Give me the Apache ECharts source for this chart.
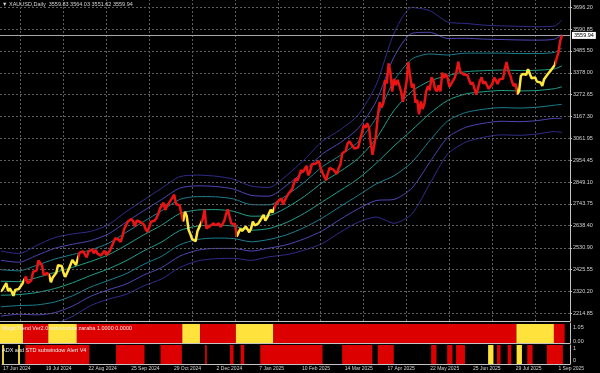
<!DOCTYPE html>
<html><head><meta charset="utf-8">
<script src="https://cdn.jsdelivr.net/npm/echarts@6/dist/echarts.min.js"></script>
<style>html,body{margin:0;padding:0;background:#000;}#c{width:600px;height:373px;}</style>
</head><body><div id="c"></div>
<script>
// ---- data ----
const closes = [
2319,2329,2328,2360,2322, 2334,2319,2298,2327,2326, 2331,2330,2356,2356,2392, 2359,2364,2372,2414,2411,
2422,2469,2458,2445,2400, 2396,2409,2397,2364,2387, 2384,2410,2447,2446,2443, 2410,2390,2382,2428,2431,
2472,2465,2447,2456,2507, 2504,2514,2512,2485,2512, 2518,2524,2504,2521,2503, 2500,2493,2495,2516,2497,
2506,2516,2512,2558,2577, 2582,2570,2559,2587,2622, 2628,2657,2657,2671,2658, 2635,2663,2659,2656,2653,
2644,2622,2608,2631,2657, 2649,2662,2674,2693,2721, 2720,2749,2714,2736,2747, 2742,2774,2788,2743,2736,
2736,2743,2659,2706,2685, 2619,2598,2573,2565,2563, 2611,2631,2650,2670,2716, 2625,2633,2636,2640,2650,
2640,2643,2650,2632,2633, 2660,2694,2718,2681,2648, 2652,2646,2586,2594,2623, 2612,2617,2634,2621,
2606,2624,2658,2640, 2636,2648,2662,2670,2690, 2663,2677,2697,2715,2702, 2708,2744,2755,2754,2770,
2740,2763,2760,2794,2798, 2815,2843,2866,2856,2861, 2907,2897,2904,2928,2882, 2899,2935,2933,2938,2936,
2951,2915,2917,2875,2858, 2893,2918,2920,2910,2910, 2889,2916,2934,2988,2984, 3001,3035,3048,3044,3022,
3011,3020,3018,3057,3085, 3124,3113,3134,3114,3037, 2982,2982,3082,3175,3237, 3211,3230,3343,3327,
3424,3380,3288,3349,3319, 3345,3317,3288,3238,3240, 3334,3431,3364,3307,3325, 3234,3248,3178,3240,3203,
3230,3289,3314,3294,3357, 3342,3300,3289,3318,3289, 3380,3353,3373,3353,3310, 3325,3322,3355,3386,3433,
3385,3390,3370,3369,3368, 3368,3323,3333,3327,3274, 3303,3338,3357,3326,3337, 3336,3301,3313,3324,3356,
3343,3324,3347,3338,3350, 3397,3431,3387,3368,3337, 3314,3326,3275,3289,3363, 3373,3380,3369,3396,3398,
3352,3348,3356,3336,3336, 3332,3315,3348,3339,3372, 3365,3393,3397,3417,3448, 3476,3533,3560
];
const trendSegments = [[0,12,'Y'],[13,26,'R'],[27,42,'Y'],[43,101,'R'],[102,111,'Y'],[112,131,'R'],[132,152,'Y'],[153,288,'R'],[289,309,'Y'],[310,315,'R']];
const adxSegments = [[0,0,'Y'],[9,9,'Y'],[13,48,'R'],[64,79,'R'],[89,100,'R'],[114,114,'R'],[128,129,'R'],[134,135,'R'],[145,179,'R'],[191,207,'R'],[211,219,'R'],[241,243,'R'],[250,252,'R'],[255,259,'R'],[273,275,'Y'],[278,279,'R'],[284,285,'R'],[289,291,'Y'],[295,297,'R'],[306,314,'R']];
const bandIdx = [0,10,20,30,40,50,60,70,80,90,100,110,120,130,140,150,160,170,180,190,200,210,220,230,240,250,260,270,280,290,300,310,314];
const upper1 = [2369,2367,2386,2411,2436,2464,2496,2543,2594,2641,2696,2714,2716,2708,2684,2687,2726,2781,2847,2902,2964,3060,3196,3289,3339,3365,3384,3389,3392,3390,3391,3398,3413];
const upper2 = [2425,2419,2446,2476,2498,2520,2552,2605,2659,2710,2765,2779,2778,2768,2740,2739,2786,2850,2924,2979,3045,3160,3340,3445,3470,3465,3474,3474,3474,3472,3472,3478,3498];
const upper3 = [2470,2461,2494,2528,2548,2565,2597,2655,2711,2765,2820,2831,2828,2816,2785,2781,2834,2905,2986,3041,3110,3240,3455,3570,3575,3545,3546,3542,3540,3538,3537,3542,3566];
const upper4 = [2515,2503,2542,2580,2598,2610,2642,2705,2763,2820,2875,2883,2878,2864,2830,2823,2882,2960,3048,3103,3175,3320,3570,3695,3680,3625,3618,3610,3606,3604,3602,3606,3634];
const lower1 = [2301,2304,2314,2333,2361,2396,2428,2468,2516,2559,2614,2636,2641,2636,2616,2624,2654,2699,2754,2809,2866,2940,3024,3101,3181,3245,3276,3287,3293,3291,3293,3302,3311];
const lower2 = [2245,2251,2254,2268,2298,2340,2372,2405,2451,2490,2545,2571,2578,2576,2560,2571,2594,2630,2676,2731,2785,2840,2880,2945,3050,3145,3186,3202,3210,3208,3212,3222,3226];
const lower3 = [2200,2209,2206,2216,2248,2295,2327,2355,2399,2435,2490,2519,2528,2528,2515,2529,2546,2575,2614,2669,2720,2760,2765,2820,2945,3065,3114,3134,3144,3142,3147,3158,3158];
const lower4 = [2155,2167,2158,2164,2198,2250,2282,2305,2347,2380,2435,2467,2478,2480,2470,2487,2498,2520,2552,2607,2655,2680,2650,2695,2840,2985,3042,3066,3078,3076,3082,3094,3090];
const priceTicks = [2214.85,2320.20,2425.55,2530.90,2638.40,2743.75,2849.10,2954.45,3061.95,3167.30,3272.65,3378.00,3485.50,3590.85,3696.20];
const dateLabels = ['17 Jun 2024','19 Jul 2024','22 Aug 2024','25 Sep 2024','29 Oct 2024','2 Dec 2024','7 Jan 2025','10 Feb 2025','14 Mar 2025','17 Apr 2025','22 May 2025','25 Jun 2025','29 Jul 2025','1 Sep 2025'];
const labelEvery = 24;
const vGridBars = [11,35,59,83,107,131,155,179,203,227,251,275,299];
const lastOHLC = [3559.83,3564.03,3551.62,3559.94];
const barCount = 319;

// ---- build ----
const RED = '#ea1414', YEL = '#ffe83a';
const SRED = '#dc0000', SYEL = '#ffe23c';
const cats = Array.from({length: barCount}, (_, i) => i);
const band = arr => bandIdx.map((x, i) => [x, arr[i]]);
const FONT = 'Liberation Sans';
const TXT = '#d2d2d2';

const bandStyle = (name, data, color) => ({
  name, type: 'line', xAxisIndex: 0, yAxisIndex: 0, data: band(data),
  symbol: 'none', smooth: 0.25, lineStyle: {color, width: 1}, z: 2, silent: true
});

function segmentSeries(segs, gi) {
  return {
    type: 'custom', xAxisIndex: gi, yAxisIndex: gi, silent: true, clip: true,
    data: segs.map(([s, e, c]) => [s, e, c === 'R' ? 0 : 1]),
    renderItem: (params, api) => {
      const seg = segs[params.dataIndex];
      const bw = api.size([1, 0])[0];
      const p0 = api.coord([seg[0], 1]);
      const p1 = api.coord([seg[1], 0]);
      return {type: 'rect',
        shape: {x: p0[0] - bw / 2, y: p0[1], width: p1[0] - p0[0] + bw, height: p1[1] - p0[1]},
        style: {fill: seg[2] === 'R' ? SRED : SYEL}};
    }
  };
}

const series = [
  Object.assign(bandStyle('U4', upper4, '#302c8c'), {
    markLine: {
      silent: true, symbol: 'none', animation: false,
      lineStyle: {color: '#5c5c5c', type: [2, 2], width: 1},
      label: {show: false},
      data: priceTicks.map(v => ({yAxis: v})).concat(vGridBars.map(i => ({xAxis: i})))
    }, z: 1
  }),
  bandStyle('U3', upper3, '#4e46b4'),
  bandStyle('U2', upper2, '#1c7f8e'),
  Object.assign(bandStyle('U1', upper1, '#21a08a'), {
    markLine: {
      silent: true, symbol: 'none', animation: false,
      lineStyle: {color: '#a8a8a8', type: 'solid', width: 1},
      label: {show: true, position: 'end', distance: 2, formatter: lastOHLC[3].toFixed(2),
        backgroundColor: '#ffffff', color: '#000', fontSize: 5.5, fontFamily: FONT, padding: [1, 2, 0, 2]},
      data: [{yAxis: lastOHLC[3]}]
    }
  }),
  bandStyle('L1', lower1, '#21a08a'),
  bandStyle('L2', lower2, '#1c7f8e'),
  bandStyle('L3', lower3, '#4e46b4'),
  bandStyle('L4', lower4, '#302c8c'),
  {name: 'price', type: 'line', xAxisIndex: 0, yAxisIndex: 0, data: closes, symbol: 'none',
   lineStyle: {width: 2.5}, z: 5, silent: true},
  segmentSeries(trendSegments, 1),
  segmentSeries(adxSegments, 2)
];

const pieces = trendSegments.map(([s, e, c]) => ({gte: s - 0.5, lt: e + 0.5, color: c === 'R' ? RED : YEL}));

const axisLineStyle = {show: true, lineStyle: {color: '#c4c4c4', width: 1}};
const hiddenX = (gi) => ({type: 'category', gridIndex: gi, data: cats, boundaryGap: true,
  axisLine: axisLineStyle, axisTick: {show: false}, axisLabel: {show: false}, splitLine: {show: false}});

const option = {
  backgroundColor: '#000000',
  animation: false,
  textStyle: {fontFamily: FONT},
  title: [
    {text: '\u25BC XAUUSD,Daily  ' + lastOHLC.map(v => v.toFixed(2)).join(' '), left: 2, top: 1, padding: 0,
     textStyle: {color: TXT, fontSize: 5.5, fontWeight: 'normal', fontFamily: FONT}},
    {text: 'MagicTrend Ver2.0 subwindow zaraba 1.0000 0.0000', left: 2, top: 325, padding: 0, z: 10,
     textStyle: {color: '#ececec', fontSize: 5.5, fontWeight: 'normal', fontFamily: FONT}},
    {text: 'ADX and STD subwindow Alert V4', left: 2, top: 347, padding: 0, z: 10,
     textStyle: {color: '#ececec', fontSize: 5.5, fontWeight: 'normal', fontFamily: FONT}}
  ],
  visualMap: {show: false, type: 'piecewise', seriesIndex: 8, dimension: 0, pieces},
  grid: [
    {left: 0, right: 30, top: 0, height: 321},
    {left: 0, right: 30, top: 323, height: 20},
    {left: 0, right: 30, top: 345, height: 19}
  ],
  xAxis: [
    hiddenX(0), hiddenX(1),
    {type: 'category', gridIndex: 2, data: cats, boundaryGap: true,
     axisLine: axisLineStyle, axisTick: {show: false}, splitLine: {show: false},
     axisLabel: {show: true, interval: (i) => i % labelEvery === 0, align: 'left', margin: 2,
       color: TXT, fontSize: 5, fontFamily: FONT,
       formatter: (v, i) => dateLabels[Math.round(i / labelEvery)] || ''}}
  ],
  yAxis: [
    {type: 'value', gridIndex: 0, position: 'right', min: 2176.2, max: 3731.5, scale: true,
     axisLine: axisLineStyle, splitLine: {show: false},
     axisTick: {show: true, length: 2, customValues: priceTicks, lineStyle: {color: '#c4c4c4'}},
     axisLabel: {customValues: priceTicks, formatter: v => v.toFixed(2), color: TXT, fontSize: 5.5, margin: 3, fontFamily: FONT}},
    {type: 'value', gridIndex: 1, position: 'right', min: 0, max: 1.05,
     axisLine: axisLineStyle, splitLine: {show: false}, axisTick: {show: false},
     axisLabel: {customValues: [0, 1.05], margin: 3,
       formatter: v => v > 0.5 ? '{t|1.05}' : '{b|0.00}',
       rich: {t: {padding: [9, 0, 0, 0], color: TXT, fontSize: 5.5, fontFamily: FONT},
              b: {padding: [0, 0, 4, 0], color: TXT, fontSize: 5.5, fontFamily: FONT}}}},
    {type: 'value', gridIndex: 2, position: 'right', min: 0, max: 1,
     axisLine: axisLineStyle, splitLine: {show: false}, axisTick: {show: false},
     axisLabel: {customValues: [0, 1], margin: 3,
       formatter: v => v > 0.5 ? '{t|1}' : '{b|0}',
       rich: {t: {padding: [7, 0, 0, 0], color: TXT, fontSize: 5.5, fontFamily: FONT},
              b: {padding: [0, 0, 7, 0], color: TXT, fontSize: 5.5, fontFamily: FONT}}}}
  ],
  series
};
const chart = echarts.init(document.getElementById('c'), null, {renderer: 'canvas'});
chart.setOption(option);
</script></body></html>
